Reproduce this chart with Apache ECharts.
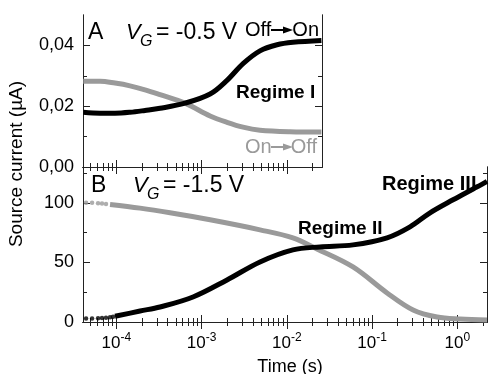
<!DOCTYPE html>
<html><head><meta charset="utf-8">
<script src="https://cdn.jsdelivr.net/npm/echarts@6/dist/echarts.min.js"></script>
<style>html,body{margin:0;padding:0;background:#fff}#c{width:489px;height:374px}</style>
</head><body><div id="c"></div>
<script>
// ---------- Panel A (V_G = -0.5 V): time (s) and source current (µA) ----------
const timeA_offOn = [4.1e-5, 6.45e-5, 9.66e-5, 1.45e-4, 2.17e-4, 3.26e-4, 6.40e-4, 1.26e-3, 1.99e-3, 3.07e-3, 4.85e-3, 7.69e-3, 1.18e-2, 2.55e-2];
const currA_offOn = [0.0180, 0.0177, 0.0177, 0.0180, 0.0186, 0.0193, 0.0210, 0.0240, 0.0285, 0.0340, 0.0382, 0.0402, 0.0410, 0.0416];
const timeA_onOff = [4.1e-5, 6.45e-5, 9.66e-5, 1.45e-4, 2.17e-4, 3.26e-4, 6.40e-4, 1.26e-3, 1.99e-3, 3.07e-3, 4.85e-3, 1.09e-2, 2.55e-2];
const currA_onOff = [0.0282, 0.0282, 0.0276, 0.0267, 0.0254, 0.0238, 0.0210, 0.0168, 0.0147, 0.0131, 0.0121, 0.0116, 0.0115];

// ---------- Panel B (V_G = -1.5 V) ----------
const timeB_offOn_dots = [4.42e-5, 5.20e-5, 6.11e-5, 6.80e-5, 7.58e-5, 8.45e-5, 9.16e-5];
const currB_offOn_dots = [3.0, 3.0, 3.2, 3.4, 3.6, 4.0, 4.4];
const timeB_offOn = [9.66e-5, 1.90e-4, 3.26e-4, 7.94e-4, 1.99e-3, 4.85e-3, 1.18e-2, 2.45e-2, 5.98e-2, 0.150, 0.279, 0.479, 0.891, 1.71, 2.23];
const currB_offOn = [4.8, 9.2, 12.6, 21.0, 35.3, 50.4, 60.5, 63.0, 64.7, 70.6, 79.8, 91.6, 102.5, 113.4, 118.0];
const timeB_onOff_dots = [4.42e-5, 5.20e-5, 6.11e-5, 6.80e-5, 7.58e-5];
const currB_onOff_dots = [100.0, 100.0, 99.6, 99.3, 99.0];
const timeB_onOff = [8.45e-5, 1.90e-4, 4.27e-4, 1.26e-3, 4.85e-3, 1.18e-2, 2.26e-2, 5.98e-2, 0.150, 0.303, 0.579, 1.077, 2.23];
const currB_onOff = [98.6, 95.5, 91.6, 85.7, 77.3, 70.6, 61.3, 46.2, 24.4, 10.1, 4.2, 2.5, 1.7];

// ---------- axis ticks ----------
const xMajorTicks = [1e-4, 1e-3, 1e-2, 1e-1, 1];
const yTicksA = [0, 0.02, 0.04];
const yMinorA = [0.01, 0.03];
const yTicksB = [0, 50, 100];
const yMinorB = [25, 75, 125];

const T_MIN = 4.07e-5, A_MAX = 0.0259, B_MAX = 2.23;
const FONT = '"Liberation Sans", Arial, Helvetica, sans-serif';
const AX = '#222';
const BLACK = '#000', GRAY = '#9a9a9a';

function zip(a, b) { return a.map((v, i) => [v, b[i]]); }
function minorLog(lo, hi) {
  const r = [];
  for (let e = -6; e <= 1; e++) for (let k = 2; k <= 9; k++) {
    const v = k * Math.pow(10, e);
    if (v > lo && v < hi) r.push(v);
  }
  return r;
}
function majorIn(lo, hi) { return xMajorTicks.filter(v => v >= lo && v <= hi); }

function xa(grid, pos, max, vals, len, withLabels) {
  return {
    type: 'log', logBase: 10, gridIndex: grid, position: pos, min: T_MIN, max: max,
    axisLine: { show: true, lineStyle: { color: AX, width: 1 } },
    axisTick: { show: true, inside: true, length: len, customValues: vals, lineStyle: { color: AX, width: 1 } },
    axisLabel: withLabels ? {
      show: true, customValues: vals, margin: 10,
      formatter: v => '{b|10}{s|' + Math.round(Math.log10(v)) + '}',
      rich: {
        b: { fontSize: 17, fontFamily: FONT, color: '#000', lineHeight: 22 },
        s: { fontSize: 12, fontFamily: FONT, color: '#000', lineHeight: 22, padding: [0, 0, 10, 0] }
      }
    } : { show: false },
    splitLine: { show: false }, minorTick: { show: false }, minorSplitLine: { show: false }
  };
}
function ya(grid, pos, min, max, vals, len, fmt) {
  return {
    type: 'value', gridIndex: grid, position: pos, min: min, max: max,
    axisLine: { show: true, lineStyle: { color: AX, width: 1 } },
    axisTick: { show: true, inside: true, length: len, customValues: vals, lineStyle: { color: AX, width: 1 } },
    axisLabel: fmt ? { show: true, customValues: vals, margin: 9, fontSize: 18, fontFamily: FONT, color: '#000', formatter: fmt } : { show: false },
    splitLine: { show: false }
  };
}

const minorA = minorLog(T_MIN, A_MAX), minorB = minorLog(T_MIN, B_MAX);
const fmtA = v => v.toFixed(2).replace('.', ',');
const fmtB = v => String(Math.round(v));

function txt(x, y, text, font, fill, align, extra) {
  return Object.assign({ type: 'text', x: x, y: y, silent: true,
    style: { text: text, font: font, fill: fill || '#000', align: align || 'left', verticalAlign: 'middle', textAlign: align || 'left', textVerticalAlign: 'middle' } }, extra || {});
}
function arrow(x1, x2, y, color) {
  return [
    { type: 'line', silent: true, shape: { x1: x1, y1: y, x2: x2 - 6, y2: y }, style: { stroke: color, lineWidth: 2 } },
    { type: 'polygon', silent: true, shape: { points: [[x2 - 10, y - 3.5], [x2, y], [x2 - 10, y + 3.5]] }, style: { fill: color } }
  ];
}

const option = {
  animation: false,
  backgroundColor: '#fff',
  grid: [
    { left: 83, top: 15, width: 239, height: 152 },
    { left: 83, top: 167, width: 404, height: 155 }
  ],
  xAxis: [
    xa(0, 'bottom', A_MAX, majorIn(T_MIN, A_MAX), 7, false),
    xa(0, 'bottom', A_MAX, minorA, 4, false),
    xa(0, 'top', A_MAX, majorIn(T_MIN, A_MAX), 7, false),
    xa(0, 'top', A_MAX, minorA, 4, false),
    xa(1, 'bottom', B_MAX, majorIn(T_MIN, B_MAX), 7, true),
    xa(1, 'bottom', B_MAX, minorB, 4, false),
    xa(1, 'top', B_MAX, majorIn(T_MIN, B_MAX), 7, false),
    xa(1, 'top', B_MAX, minorB, 4, false)
  ],
  yAxis: [
    ya(0, 'left', 0, 0.05, yTicksA, 7, fmtA),
    ya(0, 'left', 0, 0.05, yMinorA, 4, null),
    ya(0, 'right', 0, 0.05, yTicksA, 7, null),
    ya(0, 'right', 0, 0.05, yMinorA, 4, null),
    ya(1, 'left', 0, 130, yTicksB, 7, fmtB),
    ya(1, 'left', 0, 130, yMinorB, 4, null),
    ya(1, 'right', 0, 130, yTicksB, 7, null),
    ya(1, 'right', 0, 130, yMinorB, 4, null)
  ],
  series: [
    { type: 'line', xAxisIndex: 0, yAxisIndex: 0, data: zip(timeA_onOff, currA_onOff), showSymbol: false, smooth: 0.35, lineStyle: { color: GRAY, width: 5 }, z: 2 },
    { type: 'line', xAxisIndex: 0, yAxisIndex: 0, data: zip(timeA_offOn, currA_offOn), showSymbol: false, smooth: 0.35, lineStyle: { color: BLACK, width: 5 }, z: 3 },
    { type: 'line', xAxisIndex: 4, yAxisIndex: 4, data: zip(timeB_onOff, currB_onOff), showSymbol: false, smooth: 0.35, lineStyle: { color: GRAY, width: 5 }, z: 2 },
    { type: 'scatter', xAxisIndex: 4, yAxisIndex: 4, data: zip(timeB_onOff_dots, currB_onOff_dots), symbolSize: 4.5, itemStyle: { color: GRAY }, z: 2 },
    { type: 'line', xAxisIndex: 4, yAxisIndex: 4, data: zip(timeB_offOn, currB_offOn), showSymbol: false, smooth: 0.35, lineStyle: { color: BLACK, width: 5 }, z: 3 },
    { type: 'scatter', xAxisIndex: 4, yAxisIndex: 4, data: zip(timeB_offOn_dots, currB_offOn_dots), symbolSize: 4.5, itemStyle: { color: BLACK }, z: 3 }
  ],
  graphic: [
    txt(88, 33, 'A', '23px ' + FONT),
    txt(126, 33, 'V', 'italic 22px ' + FONT),
    txt(140, 42, 'G', 'italic 16px ' + FONT),
    txt(156, 33, '= -0.5 V', '23px ' + FONT),
    txt(245, 30, 'Off', '20px ' + FONT),
    txt(319, 30, 'On', '20px ' + FONT, '#000', 'right'),
    ...arrow(271, 293, 30, '#000'),
    txt(236, 93, 'Regime I', 'bold 19px ' + FONT),
    txt(245, 147, 'On', '20px ' + FONT, GRAY),
    txt(317, 147, 'Off', '20px ' + FONT, GRAY, 'right'),
    ...arrow(271, 293, 147, GRAY),
    txt(91, 186, 'B', '23px ' + FONT),
    txt(133, 186, 'V', 'italic 22px ' + FONT),
    txt(147, 195, 'G', 'italic 16px ' + FONT),
    txt(163, 186, '= -1.5 V', '23px ' + FONT),
    txt(298, 229, 'Regime II', 'bold 19px ' + FONT),
    txt(382, 184, 'Regime III', 'bold 20px ' + FONT),
    txt(290, 367, 'Time (s)', '18px ' + FONT, '#000', 'center'),
    txt(17, 164, 'Source current (µA)', '19px ' + FONT, '#000', 'center', { rotation: Math.PI / 2 })
  ]
};

const chart = echarts.init(document.getElementById('c'), null, { renderer: 'canvas' });
chart.setOption(option);
</script>
</body></html>
